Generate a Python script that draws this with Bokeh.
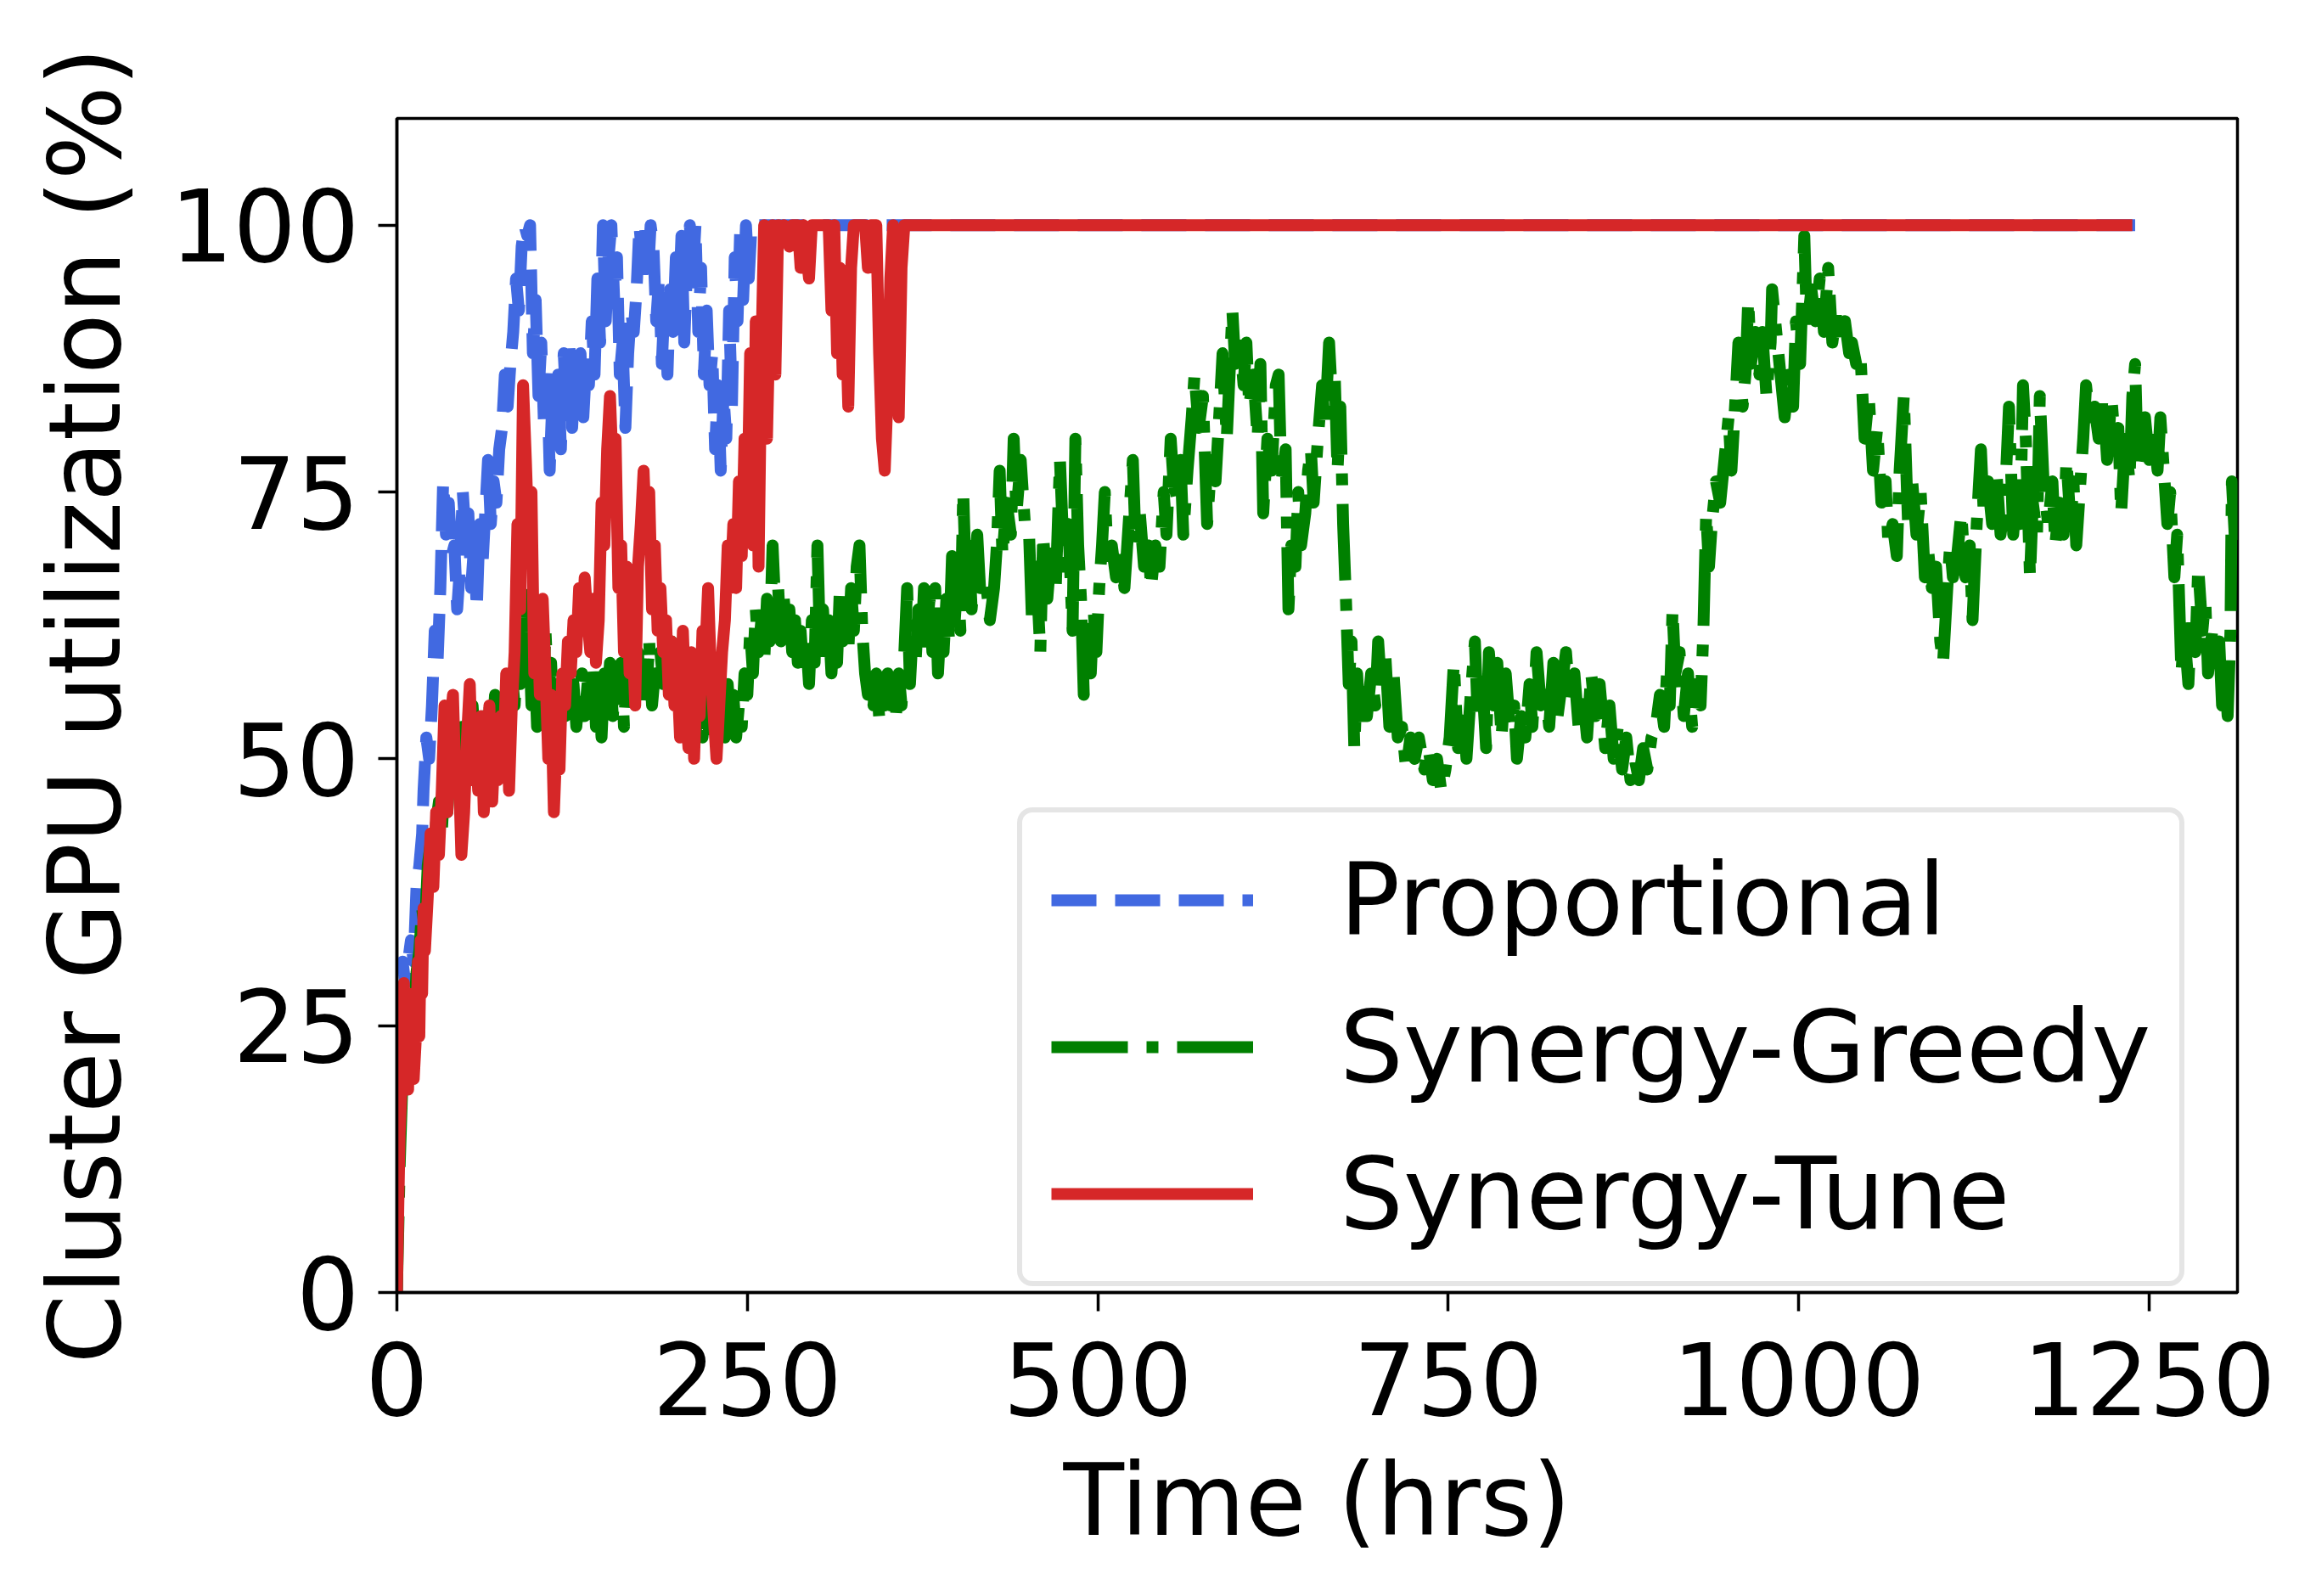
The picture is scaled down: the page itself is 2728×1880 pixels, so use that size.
from bokeh.plotting import figure
from bokeh.models import Range1d, FixedTicker
from bokeh.embed import file_html
from bokeh.resources import INLINE

# ---------------- data ----------------
prop_t = [0,1,2,4,6,8,10,12,14,16,18,19,21,23,25,27,29,31,33,35,37,39,41,43,45,47,49,51,53,55,57,59,61,63,65,67,69,71,73,75,77,79,81,83,85,87,89,91,93,95,97,99,101,103,105,107,109,111,113,115,117,119,121,123,125,127,129,131,133,135,137,139,141,143,145,147,149,151,153,155,157,159,161,163,165,167,169,171,173,175,177,179,181,183,185,187,189,191,193,195,197,199,201,203,205,207,209,211,213,215,217,219,221,223,225,227,229,231,233,235,237,239,241,243,245,247,249,251,253,256,1240]
prop_v = [0,20,27,31,29,31,33,31,38,40,43,47,52,50,55,62,59,66,76,71,74,69,70,64,68,75,71,73,66,70,64,72,68,73,78,72,76,74,79,81,86,83,87,90,95,92,98,100,99,100,88,93,84,89,81,87,77,84,80,86,79,88,83,89,81,86,84,88,82,87,85,91,86,95,89,100,91,97,100,93,97,86,89,81,88,92,90,94,100,97,100,95,100,98,91,95,87,93,86,94,90,97,92,99,89,96,100,95,100,90,96,86,92,85,88,79,85,77,84,80,92,83,97,91,100,93,100,95,100,100,100]

greedy_t = [0,2,4,6,8,10,12,14,16,18,20,22,24,26,28,30,32,34,36,38,40,42,44,46,48,50,52,54,56,58,60,62,64,66,68,70,72,74,76,78,80,82,84,86,88,90,92,94,96,98,100,102,104,106,108,110,112,114,116,118,120,122,124,126,128,130,132,134,136,138,140,142,144,146,148,150,152,154,156,158,160,162,164,166,168,170,172,174,176,178,180,182,184,186,188,190,192,194,196,198,200,202,204,206,208,210,212,214,216,218,220,222,224,226,228,230,232,234,236,238,240,242,244,246,248,250,252,254,256,258,260,262,264,266,268,270,272,274,276,278,280,282,284,286,288,290,292,294,296,298,300,302,304,306,308,310,312,314,316,318,320,322,324,326,328,330,332,334,336,338,340,342,344,346,348,350,352,354,356,358,360,362,364,366,368,370,372,374,376,378,380,382,384,386,388,390,392,394,396,398,400,402,404,406,408,410,414,416,420,423,426,428,430,432,435,438,440,442,445,448,451,453,456,459,461,464,467,470,473,476,479,482,484,486,488,490,492,495,497,499,501,503,505,507,510,513,516,519,522,525,527,530,533,536,538,541,544,547,549,552,554,557,559,561,564,567,569,572,575,578,581,584,587,589,592,594,596,598,601,604,606,608,611,614,616,618,621,624,627,629,631,634,636,638,641,643,645,648,650,652,654,657,660,662,665,667,669,671,673,675,677,679,681,683,685,687,690,692,695,698,700,702,705,708,711,714,717,720,723,726,729,733,736,739,742,745,748,751,754,757,760,763,766,769,771,774,777,779,782,785,788,791,794,797,799,802,805,808,810,813,816,819,822,825,828,831,834,837,840,843,846,849,852,855,858,862,865,868,871,874,877,880,883,886,889,892,895,898,901,904,906,908,910,912,915,918,921,924,927,930,932,934,936,938,941,944,947,950,952,955,957,960,962,964,966,969,972,974,977,980,981,984,987,990,993,996,998,1001,1004,1006,1009,1012,1015,1018,1021,1024,1027,1030,1033,1036,1038,1041,1044,1047,1050,1053,1056,1059,1062,1064,1067,1070,1072,1075,1078,1081,1084,1087,1090,1092,1095,1098,1101,1103,1106,1108,1110,1113,1116,1119,1122,1124,1127,1130,1132,1135,1138,1141,1144,1147,1150,1153,1156,1158,1160,1162,1165,1167,1170,1172,1175,1178,1181,1183,1186,1189,1191,1194,1196,1198,1201,1203,1205,1208,1211,1214,1217,1220,1223,1226,1228,1230,1233,1236,1238,1240,1242,1245,1247,1250,1253,1256,1258,1261,1263,1265,1268,1270,1273,1275,1278,1280,1283,1285,1288,1290,1292,1295,1297,1300,1302,1304,1306,1308,1309,1311,1313]
greedy_v = [0,12,20,24,22,27,25,30,32,36,34,40,42,39,44,46,43,48,45,50,47,52,49,53,50,54,51,55,51,53,50,54,51,55,52,56,52,55,53,57,54,58,55,60,57,66,60,63,55,60,53,58,55,62,56,59,53,57,52,56,54,58,55,57,53,56,58,54,57,55,59,53,56,52,58,55,59,54,57,55,59,53,58,56,61,57,60,55,58,56,61,55,58,56,60,57,62,58,61,56,59,55,60,56,58,54,57,53,56,52,55,53,57,52,55,53,56,52,57,53,56,52,55,53,58,56,62,58,64,60,63,59,65,61,70,64,66,61,65,62,64,60,63,59,62,58,61,57,63,59,70,60,64,59,63,58,62,59,66,61,64,60,66,62,68,70,62,58,56,59,55,58,54,57,55,58,55,57,54,58,55,60,66,57,62,59,64,60,66,62,65,60,66,58,63,60,65,61,69,63,67,62,75,66,70,64,71,66,67,63,66,70,77,69,74,71,80,73,78,72,71,63,68,60,71,65,70,66,78,68,72,62,80,70,65,56,62,58,64,60,66,70,75,69,70,67,70,66,72,78,70,73,68,70,66,70,68,75,71,80,76,74,78,71,77,82,86,81,84,72,78,76,83,88,80,86,92,87,90,85,89,83,86,80,87,73,80,77,85,86,76,79,64,70,68,75,70,73,77,79,74,80,85,81,89,84,86,77,83,72,65,57,61,51,58,53,57,54,58,55,61,57,60,53,58,52,53,49,52,50,52,49,51,48,50,47,49,52,59,51,55,50,56,61,54,58,51,60,55,59,52,58,53,55,50,54,52,57,53,60,55,57,53,59,54,57,60,55,58,53,56,52,58,54,57,51,55,50,53,49,52,48,50,48,51,49,52,53,56,53,58,55,64,58,60,54,58,53,57,55,62,73,68,72,76,74,78,82,77,84,89,83,86,93,87,90,86,90,84,89,94,90,86,82,86,83,91,87,99,90,94,91,95,90,96,89,92,89,91,88,89,87,88,80,84,77,81,74,76,70,72,69,77,84,72,76,71,75,67,70,66,68,61,59,66,70,67,69,73,67,70,63,72,79,73,76,72,77,71,74,83,71,76,72,85,80,67,74,71,84,75,72,76,70,74,71,78,72,76,70,76,80,85,81,83,80,84,78,84,79,81,73,80,76,84,87,77,80,82,78,81,77,82,76,72,75,67,71,58,62,57,63,60,68,62,65,58,62,59,61,55,58,54,62,76,71,75]

tune_t = [0,1,2,3,4,5,6,7,8,9,10,11,12,14,15,16,17,18,19,20,22,24,26,28,30,32,34,36,38,40,42,44,46,48,50,52,54,56,58,60,62,64,66,68,70,72,74,76,78,80,82,84,86,88,90,92,94,96,98,100,102,104,106,108,110,112,114,116,118,120,122,124,126,128,130,132,134,136,138,140,142,144,146,148,150,152,154,156,158,160,162,164,166,168,170,172,174,176,178,180,182,184,186,188,190,192,194,196,198,200,202,204,206,208,210,212,214,216,218,220,222,224,226,228,230,232,234,236,238,240,242,244,246,248,250,252,254,256,258,260,262,264,266,268,270,272,274,276,280,282,286,288,290,294,296,308,310,312,314,316,318,320,322,324,326,334,336,338,342,344,346,348,350,352,354,356,358,360,362,1238]
tune_v = [0,8,15,18,26,29,22,28,19,27,22,28,20,25,31,24,33,28,36,32,37,43,38,45,41,47,55,45,53,56,47,50,41,45,52,57,48,52,47,54,45,50,55,46,52,48,54,50,58,47,55,60,72,64,85,78,70,75,58,64,56,65,58,50,56,45,52,49,58,55,61,58,63,60,66,62,67,63,60,65,59,63,74,70,79,84,77,80,66,70,60,68,58,62,55,68,72,77,70,75,64,70,62,66,60,63,56,61,55,58,52,62,55,51,60,50,58,54,62,60,66,58,54,50,55,60,63,70,66,72,66,76,69,80,73,88,70,91,68,88,100,80,92,100,86,100,99,100,98,100,100,96,100,95,100,100,92,100,88,96,86,92,83,96,100,100,96,100,100,88,80,77,84,95,100,90,82,96,100,100]

labels = ["Proportional", "Synergy-Greedy", "Synergy-Tune"]
colors = ["#4169E1", "#008000", "#D62728"]
x_ticks = [0, 250, 500, 750, 1000, 1250]
y_ticks = [0, 25, 50, 75, 100]

FONT = "DejaVu Sans"
FS = "117px"

p = figure(width=2712, height=1864, output_backend="svg", toolbar_location=None,
           x_range=Range1d(0, 1313), y_range=Range1d(0, 110),
           min_border_left=467, min_border_right=77, min_border_top=139, min_border_bottom=342)

p.line(prop_t, prop_v, color=colors[0], line_width=14, line_dash="53 22",
       line_join="round", legend_label=labels[0])
p.line(greedy_t, greedy_v, color=colors[1], line_width=14, line_dash="90 22 14 22",
       line_join="round", legend_label=labels[1])
p.line(tune_t, tune_v, color=colors[2], line_width=14,
       line_join="round", legend_label=labels[2])

p.xgrid.visible = False
p.ygrid.visible = False
p.outline_line_color = "black"
p.outline_line_width = 3.5
p.background_fill_color = "white"
p.border_fill_color = "white"

for ax in (p.xaxis[0], p.yaxis[0]):
    ax.axis_line_width = 3.5
    ax.major_tick_line_width = 3.5
    ax.major_tick_in = 0
    ax.major_tick_out = 22
    ax.minor_tick_line_color = None
    ax.major_label_text_font = FONT
    ax.major_label_text_font_size = FS
    ax.major_label_text_color = "black"
    ax.axis_label_text_font = FONT
    ax.axis_label_text_font_size = FS
    ax.axis_label_text_font_style = "normal"
    ax.axis_label_text_color = "black"

p.xaxis.ticker = FixedTicker(ticks=x_ticks)
p.yaxis.ticker = FixedTicker(ticks=y_ticks)
p.xaxis.axis_label = "Time (hrs)"
p.yaxis.axis_label = "Cluster GPU utilization (%)"
p.xaxis.major_label_standoff = 36
p.yaxis.major_label_standoff = 22
p.xaxis.axis_label_standoff = 29
p.yaxis.axis_label_standoff = 28

lg = p.legend[0]
lg.location = (731, 7)
lg.label_text_font = FONT
lg.label_text_font_size = "118px"
lg.label_text_color = "black"
lg.label_text_baseline = "middle"
lg.glyph_width = 238
lg.glyph_height = 116
lg.label_height = 116
lg.label_standoff = 102
lg.spacing = 35
lg.padding = 34
lg.margin = 0
lg.border_line_color = "#CCCCCC"
lg.border_line_width = 6
lg.border_radius = 18
lg.background_fill_color = "white"
lg.background_fill_alpha = 0.8

open("out.html", "w").write(file_html(p, INLINE))
